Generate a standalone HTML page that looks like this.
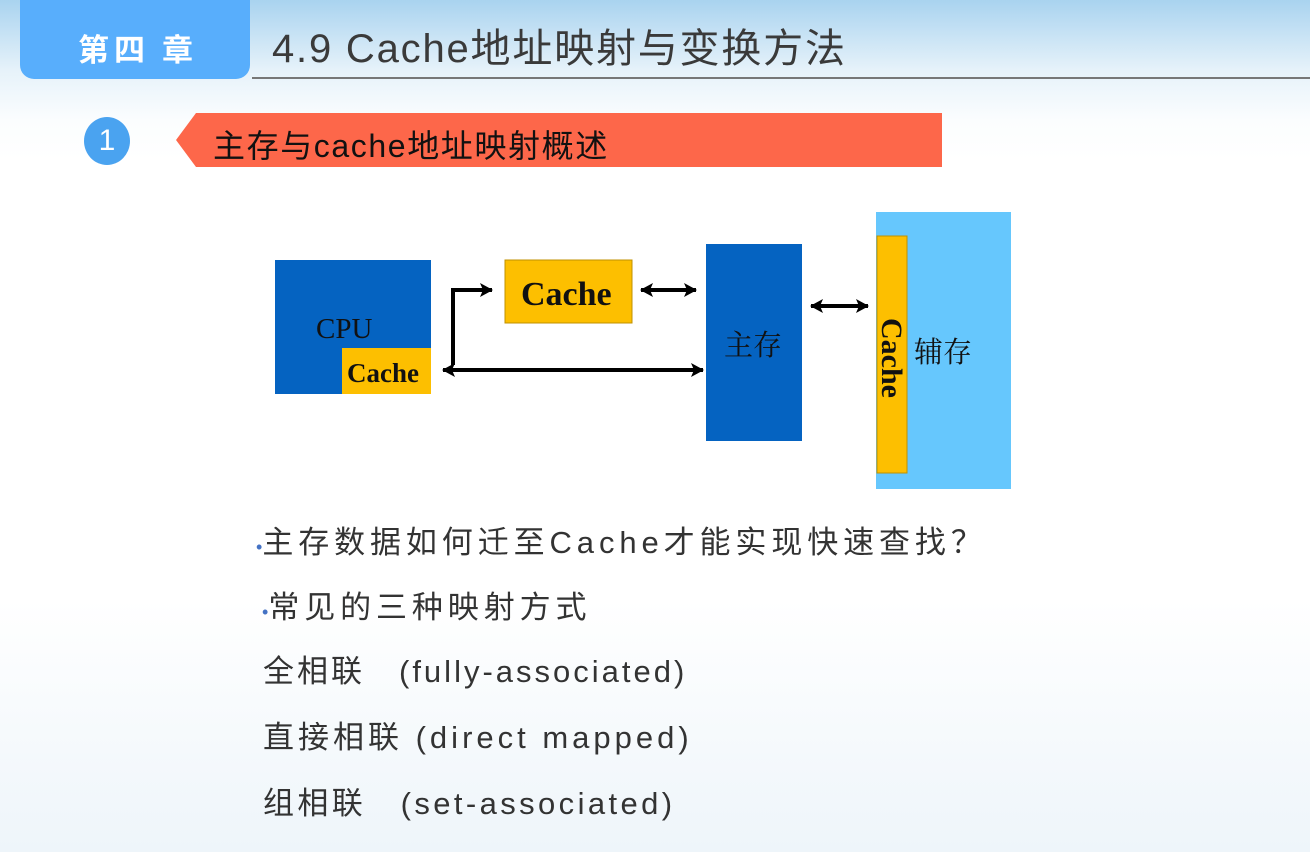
<!DOCTYPE html>
<html><head><meta charset="utf-8"><style>
body{margin:0;width:1310px;height:852px;overflow:hidden;font-family:"Liberation Sans","Noto Sans CJK SC",sans-serif;
background:linear-gradient(180deg,#a9d3ef 0px,#e6f2fa 70px,#fbfdfe 120px,#ffffff 160px,#ffffff 600px,#eef5fa 852px);position:relative}
.a{position:absolute;white-space:nowrap}
.tx{font-size:31px;color:#333;letter-spacing:3px}
.bl{letter-spacing:4.9px}
</style></head><body>
<div class="a" style="left:20px;top:0;width:230px;height:79px;background:#58aefc;border-radius:0 0 14px 14px"></div>
<div class="a" style="left:78px;top:25px;color:#fff;font-size:31px;font-weight:bold;letter-spacing:5px;font-family:'Noto Sans CJK SC',sans-serif">第四 章</div>
<div class="a" style="left:272px;top:16px;font-size:40px;letter-spacing:1.8px;color:#3a3a3a">4.9 Cache地址映射与变换方法</div>
<div class="a" style="left:252px;top:77px;width:1058px;height:2px;background:#777"></div>
<div class="a" style="left:84px;top:117px;width:46px;height:48px;border-radius:50%;background:#4aa3f0;color:#fff;font-size:30px;text-align:center;line-height:48px">1</div>
<svg class="a" style="left:176px;top:113px" width="766" height="54"><polygon points="0,27 20,0 766,0 766,54 20,54" fill="#fd674a"/></svg>
<div class="a" style="left:213px;top:121px;font-size:32px;letter-spacing:1.6px;color:#111">主存与cache地址映射概述</div>

<svg class="a" style="left:0;top:0" width="1310" height="852" font-family="Liberation Serif,'Noto Serif CJK SC',serif">
<defs><marker id="h" markerWidth="14" markerHeight="14" refX="12" refY="7" orient="auto-start-reverse" markerUnits="userSpaceOnUse"><polygon points="0,0 13,7 0,14 3,7" fill="#000"/></marker></defs>
<rect x="275" y="260" width="156" height="134" fill="#0563c1"/>
<text x="316" y="338" font-size="29" fill="#111">CPU</text>
<rect x="342" y="348" width="89" height="46" fill="#fdbf00"/>
<text x="347" y="382" font-size="27" font-weight="bold" fill="#111">Cache</text>
<rect x="505" y="260" width="127" height="63" fill="#fdbf00" stroke="#c09000"/>
<text x="521" y="305" font-size="34" font-weight="bold" fill="#111">Cache</text>
<rect x="706" y="244" width="96" height="197" fill="#0563c1"/>
<text x="724" y="355" font-size="29" fill="#111">主存</text>
<rect x="876" y="212" width="135" height="277" fill="#66c7fd"/>
<rect x="877" y="236" width="30" height="237" fill="#fdbf00" stroke="#c09000"/>
<text x="882" y="318" font-size="30" font-weight="bold" fill="#111" transform="rotate(90 882 318)">Cache</text>
<text x="914" y="362" font-size="29" fill="#111">辅存</text>
<g stroke="#000" stroke-width="4" fill="none">
<polyline points="453,365 453,290 492,290" marker-end="url(#h)"/>
<line x1="443" y1="370" x2="703" y2="370" marker-start="url(#h)" marker-end="url(#h)"/>
<line x1="641" y1="290" x2="696" y2="290" marker-start="url(#h)" marker-end="url(#h)"/>
<line x1="811" y1="306" x2="868" y2="306" marker-start="url(#h)" marker-end="url(#h)"/>
</g>
</svg>

<div class="a tx bl" style="left:256px;top:517px"><span style="color:#4472c4;font-size:18px;letter-spacing:0">•</span>主存数据如何迁至Cache才能实现快速查找？</div>
<div class="a tx bl" style="left:262px;top:582px"><span style="color:#4472c4;font-size:18px;letter-spacing:0">•</span>常见的三种映射方式</div>
<div class="a tx" style="left:263px;top:646px">全相联　(fully-associated)</div>
<div class="a tx" style="left:263px;top:712px;letter-spacing:4px">直接相联 (direct mapped)</div>
<div class="a tx" style="left:263px;top:778px;letter-spacing:3.4px">组相联　(set-associated)</div>
</body></html>
